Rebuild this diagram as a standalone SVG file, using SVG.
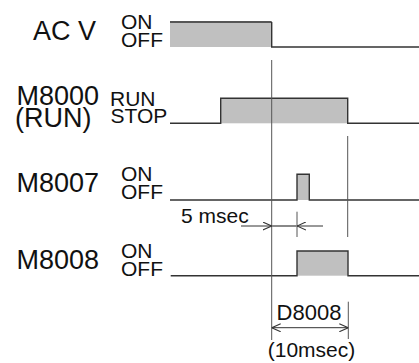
<svg xmlns="http://www.w3.org/2000/svg" width="419" height="363" viewBox="0 0 419 363">
<style>
.big{font-family:"Liberation Sans",Arial,sans-serif;font-size:27px;fill:#111}
.sm{font-family:"Liberation Sans",Arial,sans-serif;font-size:21px;fill:#111}
.e{text-anchor:end}
.w{fill:none;stroke:#333;stroke-width:1.4}
.f{fill:#c0c0c0;stroke:none}
.g{fill:none;stroke:#555;stroke-width:1}
.a{fill:none;stroke:#333;stroke-width:1}
</style>
<defs>
<marker id="ah" viewBox="0 0 10 10" refX="10" refY="5" markerWidth="9" markerHeight="9" markerUnits="userSpaceOnUse" orient="auto-start-reverse">
<path d="M0,0.5 L10,5 L0,9.5" fill="none" stroke="#333" stroke-width="1.2"/>
</marker>
</defs>
<rect width="419" height="363" fill="#fff"/>
<g id="acv">
<text class="big" x="33" y="40">AC V</text>
<text class="sm" x="121" y="29">ON</text>
<text class="sm" x="121" y="47">OFF</text>
<rect class="f" x="170" y="22" width="101.7" height="25"/>
<path d="M170,22 H271.7" stroke="#555" stroke-width="2" fill="none"/>
<path class="w" d="M271.7,22 V47 H419"/>
</g>
<g id="m8000">
<text class="big e" x="99" y="105">M8000</text>
<text class="big" x="15" y="127">(RUN)</text>
<text class="sm" x="110" y="106">RUN</text>
<text class="sm" x="110.5" y="123">STOP</text>
<rect class="f" x="220.7" y="98.3" width="127" height="25"/>
<path class="w" d="M170,123.3 H220.7 V98.3 H347.7 V123.3 H419"/>
</g>
<g id="m8007">
<text class="big e" x="99" y="192">M8007</text>
<text class="sm" x="121" y="181">ON</text>
<text class="sm" x="121" y="199">OFF</text>
<rect class="f" x="297" y="174.3" width="12.3" height="25.7"/>
<path class="w" d="M170,200 H297 V174.3 H309.3 V200 H419"/>
</g>
<g id="m8008">
<text class="big e" x="99" y="269">M8008</text>
<text class="sm" x="121" y="258">ON</text>
<text class="sm" x="121" y="276">OFF</text>
<rect class="f" x="297" y="251" width="51" height="24.7"/>
<path class="w" d="M170.7,275.7 H297 V251 H348 V275.7 H419"/>
</g>
<g id="connectors">
<path class="g" d="M271.7,60 V340"/>
<path class="g" d="M347.7,136 V237"/>
<path class="g" d="M297,211.7 V237"/>
<path d="M271.7,226 H297" stroke="#888" stroke-width="2" fill="none"/>
<path class="a" d="M241,226 H271.7" marker-end="url(#ah)"/>
<path class="a" d="M323,226 H297" marker-end="url(#ah)"/>
<path class="g" d="M348.3,301.7 V339"/>
<path class="a" d="M271.7,327.7 H348.3" marker-start="url(#ah)" marker-end="url(#ah)"/>
</g>
<g id="labels">
<text class="sm" x="181" y="223">5 msec</text>
<text class="sm" x="309" y="320" text-anchor="middle" style="font-size:22px">D8008</text>
<text class="sm" x="311.5" y="357" text-anchor="middle">(10msec)</text>
</g>
</svg>
